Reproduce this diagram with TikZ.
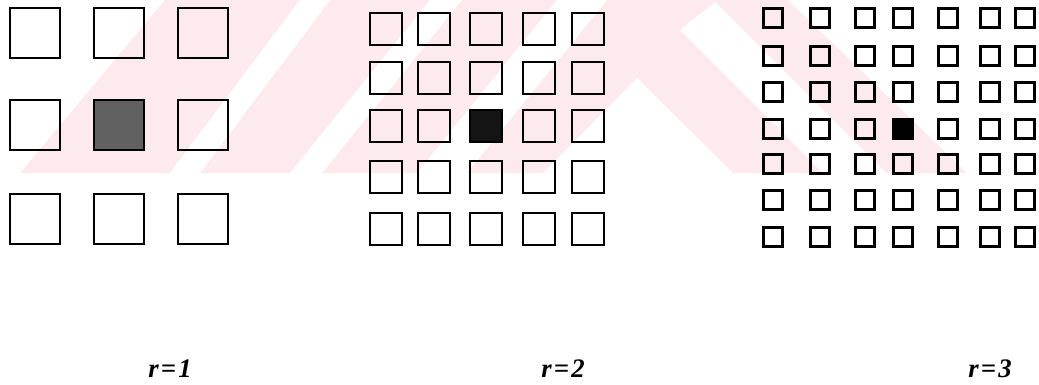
\documentclass[tikz,border=0pt]{standalone}
\usepackage{xcolor,tikz,fontspec}
\setmainfont{Liberation Serif}
\usetikzlibrary{positioning}
\definecolor{wm}{RGB}{253,234,238}
\tikzset{
  cell/.style={draw=black,line width=1.8pt,inner sep=0pt},
  big/.style={cell,minimum size=1.26cm},
  mid/.style={cell,minimum size=0.79cm},
  tiny/.style={cell,line width=1.6pt,minimum size=0.47cm},
  hitA/.style={fill=black!62},
  hitB/.style={fill=black!92},
  hitC/.style={fill=black},
  lab/.style={font=\fontsize{19}{21}\selectfont\bfseries\itshape}
}
\newcommand{\rlab}[1]{r\hspace{0.08em}=\hspace{0.08em}#1}

\begin{document}
\begin{tikzpicture}[x=0.025cm,y=-0.025cm]
  \useasboundingbox (0,0) rectangle (1039,384);
  % faint watermark behind the grids
  \fill[wm] (20,173) -- (165,0) -- (788,0) -- (967,173) -- cycle;
  \fill[white] (170,173) -- (300,0) -- (330,0) -- (200,173) -- cycle;
  \fill[white] (290,173) -- (430,0) -- (462,0) -- (322,173) -- cycle;
  \fill[white] (417,173) -- (557,0) -- (607,0) -- (467,173) -- cycle;
  \fill[white] (543,173) -- (637,78) -- (733,173) -- cycle;
  \fill[white] (680,30) -- (715,2) -- (886,173) -- (823,173) -- cycle;

  % r=1
  \foreach \x [count=\i] in {35,119,203}{
    \foreach \y [count=\j] in {33,125,219}{
      \ifnum\i\j=22 \def\st{hitA}\else\def\st{}\fi
      \node[big,\st] (a\i\j) at (\x,\y) {};
    }
  }
  \node[lab] (la) at (170,369) {\rlab{1}};

  % r=2
  \foreach \x [count=\i] in {386,434,486,539,588}{
    \foreach \y [count=\j] in {29,78,126,177,229}{
      \ifnum\i\j=33 \def\st{hitB}\else\def\st{}\fi
      \node[mid,\st] (b\i\j) at (\x,\y) {};
    }
  }
  \node[lab] (lb) at (563,369) {\rlab{2}};

  % r=3
  \foreach \x [count=\i] in {773,820,865,903,948,990,1025}{
    \foreach \y [count=\j] in {18,56,92,129,164,200,237}{
      \ifnum\i\j=44 \def\st{hitC}\else\def\st{}\fi
      \node[tiny,\st] (c\i\j) at (\x,\y) {};
    }
  }
  \node[lab] (lc) at (990,369) {\rlab{3}};
\end{tikzpicture}
\end{document}
